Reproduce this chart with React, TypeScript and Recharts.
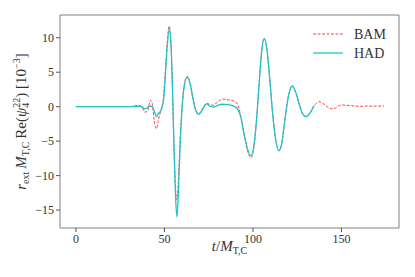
import { LineChart, Line, XAxis, YAxis, ReferenceArea } from 'recharts'

// time in units of M_T,C
const times = [
    0, 10, 20, 28, 32, 35, 37, 39, 40.5, 42, 43, 44.5, 45.5, 46.5, 48, 49.5, 50.5, 51.5, 52.7, 53.7,
    54.5, 55.3, 56.2, 57, 57.8, 58.8, 60, 61.2, 62.8, 64.5, 66, 67.5, 69.5, 71.5, 73.8, 75.5, 77.6, 80, 83, 86,
    89.5, 91.5, 93, 95, 97, 98.9, 100.5, 102, 103.5, 105, 106.4, 107.8, 109.5, 111.3, 113, 114.7, 116.3, 118, 120, 122.2,
    124, 126, 128, 130, 132, 134.5, 137.3, 140, 143, 145.4, 147.5, 150, 153, 155.6, 158, 160.5, 164, 168, 174,
]

// BAM waveform [1e-3]
const bam = [
    0, 0, 0, 0, 0.05, 0.2, 0.05, -0.8, -0.6, 0.9, 0.6, -2.5, -3.2, -2.0, -0.5, 1.5, 5, 9, 11.7, 9,
    3, -5, -11.5, -13.5, -11, -5, 0, 3.2, 4.4, 3.5, 1.5, -0.3, -1.0, -0.3, 0.5, 0.35, 0.2, 0.7, 1.1, 1.0,
    0.8, 0.2, -1.2, -4, -6.5, -7.4, -6, -2, 3.5, 8.3, 9.9, 8.5, 4, -1.5, -5, -6.4, -5.3, -2, 1.5, 3.0,
    2.2, 0.5, -1.0, -1.45, -1.0, 0.1, 0.72, 0.4, -0.2, -0.33, 0, 0.25, 0.2, 0.15, 0.08, 0.05, 0.1, 0.08, 0.1,
]

// HAD waveform [1e-3], ends earlier
const had = [
    0, 0, 0, 0, 0, 0.05, 0, -0.3, -0.1, 0.1, 0, -0.8, -1.45, -1.0, -0.6, 1.0, 4.5, 8.5, 11.3, 9,
    3, -5, -12.5, -16.0, -13, -6, 0, 3.0, 4.3, 3.3, 1.3, -0.4, -1.1, -0.4, 0.4, 0.1, -0.05, 0.2, 0.35, 0.3,
    0.05, -0.4, -1.4, -4, -6.2, -7.1, -5.7, -2, 3.4, 8.2, 9.9, 8.5, 4, -1.5, -5, -6.4, -5.3, -2, 1.5, 3.0,
    2.2, 0.5, -1.0, -1.45, -1.0, 0.15, null, null, null, null, null, null, null, null, null, null, null, null, null,
]

const xTicks = [0, 50, 100, 150]
const yTicks = [-15, -10, -5, 0, 5, 10]

const data = times.map((t, i) => ({ t, bam: bam[i], had: had[i] }))

const font = "'Liberation Serif', 'DejaVu Serif', serif"
const tickStyle = { fill: '#333', fontSize: 12, fontFamily: font }
const fmt = (v: number) => (v < 0 ? `\u2212${-v}` : `${v}`)

const X_DOMAIN: [number, number] = [-9, 182.5]
const Y_DOMAIN: [number, number] = [-17.6, 13.3]

export default function App() {
    return (
        <div style={{ position: 'absolute', left: 0, top: 0, width: 415, height: 277, background: '#fff' }}>
            <LineChart width={415} height={277} data={data} margin={{ top: 15, right: 16, left: 0, bottom: 0 }}>
                <XAxis
                    dataKey="t" type="number" domain={X_DOMAIN} ticks={xTicks} height={49}
                    axisLine={false} tickSize={4} tickMargin={2} tick={tickStyle}
                    tickLine={{ stroke: '#555' }} allowDataOverflow
                />
                <YAxis
                    type="number" domain={Y_DOMAIN} ticks={yTicks} width={60}
                    axisLine={false} tickSize={4} tickMargin={2} tick={tickStyle}
                    tickLine={{ stroke: '#555' }} tickFormatter={fmt} allowDataOverflow
                />
                <ReferenceArea
                    x1={X_DOMAIN[0]} x2={X_DOMAIN[1]} y1={Y_DOMAIN[0]} y2={Y_DOMAIN[1]}
                    fill="none" stroke="#808080" strokeWidth={1} ifOverflow="visible"
                />
                <Line dataKey="bam" type="monotone" stroke="#f24a4a" strokeWidth={1} strokeDasharray="3 1.5" dot={false} isAnimationActive={false} />
                <Line dataKey="had" type="monotone" stroke="#22c2c8" strokeWidth={1.3} dot={false} connectNulls={false} isAnimationActive={false} />
            </LineChart>
            <svg width={415} height={277} style={{ position: 'absolute', left: 0, top: 0, pointerEvents: 'none' }}
                fontFamily={font} fill="#333">
                <text x={229.5} y={251} fontSize={15} textAnchor="middle">
                    <tspan fontStyle="italic">t</tspan>/<tspan fontStyle="italic">M</tspan>
                    <tspan fontSize={10} dy={3}>T,C</tspan>
                </text>
                <text transform="translate(26,121.5) rotate(-90)" fontSize={15} textAnchor="middle">
                    <tspan fontStyle="italic">r</tspan>
                    <tspan fontSize={10} dy={3}>ext</tspan>
                    <tspan dy={-3} dx={3} fontStyle="italic">M</tspan>
                    <tspan fontSize={10} dy={3}>T,C</tspan>
                    <tspan dy={-3} dx={3}>Re(</tspan>
                    <tspan fontStyle="italic">ψ</tspan>
                    <tspan fontSize={10} dy={3}>4</tspan>
                    <tspan fontSize={10} dy={-9} dx={-5}>22</tspan>
                    <tspan dy={6}>) [10</tspan>
                    <tspan fontSize={10} dy={-6}>−3</tspan>
                    <tspan dy={6}>]</tspan>
                </text>
                <line x1={313} x2={343} y1={34} y2={34} stroke="#f24a4a" strokeWidth={1} strokeDasharray="3 1.5" />
                <text x={354} y={38.5} fontSize={14}>BAM</text>
                <line x1={313} x2={343} y1={53} y2={53} stroke="#22c2c8" strokeWidth={1.3} />
                <text x={354} y={57.5} fontSize={14}>HAD</text>
            </svg>
        </div>
    )
}
